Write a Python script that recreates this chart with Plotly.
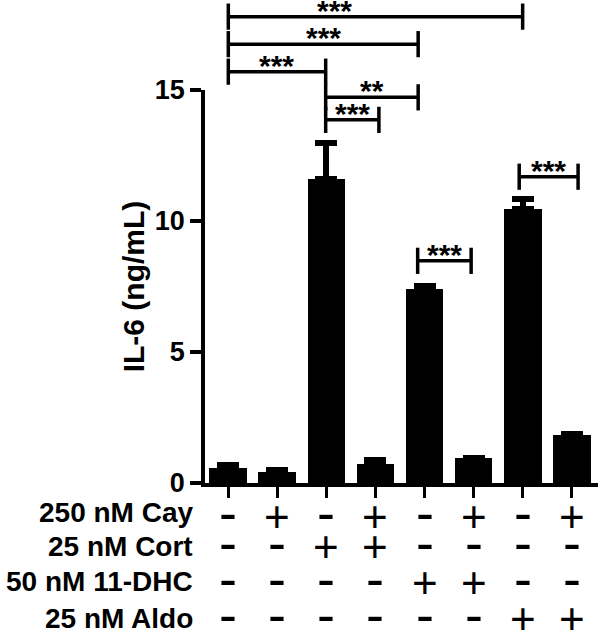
import plotly.graph_objects as go

# ---------------- data ----------------
groups = ["G1", "G2", "G3", "G4", "G5", "G6", "G7", "G8"]
il6_mean = [0.57, 0.42, 11.59, 0.72, 7.40, 0.95, 10.45, 1.82]
il6_sem = [0.13, 0.08, 1.40, 0.17, 0.12, 0.02, 0.39, 0.06]

row_labels = ["250 nM Cay", "25 nM Cort", "50 nM 11-DHC", "25 nM Aldo"]
cay = [0, 1, 0, 1, 0, 1, 0, 1]
cort = [0, 0, 1, 1, 0, 0, 0, 0]
dhc = [0, 0, 0, 0, 1, 1, 0, 0]
aldo = [0, 0, 0, 0, 0, 0, 1, 1]
treatments = [cay, cort, dhc, aldo]

# significance brackets: start (group index), end, height (ng/mL), label, label x
sig_start = [0.0, 0.0, 0.0, 1.985, 1.985, 3.86, 5.93]
sig_end = [6.0, 3.87, 1.985, 3.87, 3.07, 4.95, 7.13]
sig_height = [17.80, 16.75, 15.70, 14.72, 13.86, 8.48, 11.69]
sig_label = ["***", "***", "***", "**", "***", "***", "***"]
sig_label_x = [2.17, None, None, None, None, None, None]

y_ticks = [0, 5, 10, 15]
Y_MAX = 15

# ---------------- style ----------------
FONT = "Liberation Sans, Arial, Helvetica, sans-serif"
xpos = list(range(len(groups)))

fig = go.Figure()
fig.add_trace(go.Bar(
    x=xpos, y=il6_mean, width=0.77,
    marker=dict(color="black", line=dict(width=0)),
    error_y=dict(type="data", array=il6_sem, arrayminus=[0] * len(il6_sem),
                 symmetric=False, color="black", thickness=6, width=11),
    showlegend=False,
))

shapes = []
annotations = []
tick_half = 0.5  # vertical end-mark half length in ng/mL
for s, e, h, lab, lx in zip(sig_start, sig_end, sig_height, sig_label, sig_label_x):
    yl = h / Y_MAX
    y0 = (h - tick_half) / Y_MAX
    y1 = (h + tick_half) / Y_MAX
    line = dict(color="black", width=3.5)
    shapes.append(dict(type="line", xref="x", yref="paper", x0=s, x1=e, y0=yl, y1=yl, line=line))
    shapes.append(dict(type="line", xref="x", yref="paper", x0=s, x1=s, y0=y0, y1=y1, line=line))
    shapes.append(dict(type="line", xref="x", yref="paper", x0=e, x1=e, y0=y0, y1=y1, line=line))
    annotations.append(dict(
        text=lab, xref="x", yref="paper",
        x=(lx if lx is not None else (s + e) / 2), y=yl,
        xanchor="center", yanchor="middle", yshift=7, height=18, showarrow=False,
        font=dict(family=FONT, size=30, color="black", weight="bold"),
    ))

# treatment table below the axis
label_px = [512.5, 546.7, 581.7, 618.3]
sign_px = [517.5, 548.0, 583.3, 620.0]
PLOT_BOTTOM = 483.3
for r, (lab, flags) in enumerate(zip(row_labels, treatments)):
    annotations.append(dict(
        text=lab, xref="paper", yref="paper", x=0, y=0, xshift=-10,
        yshift=-(label_px[r] - PLOT_BOTTOM),
        xanchor="right", yanchor="middle", showarrow=False,
        font=dict(family=FONT, size=28, color="black", weight="bold"),
    ))
    for i, f in enumerate(flags):
        if f:
            annotations.append(dict(
                text="+", xref="x", yref="paper", x=xpos[i], y=0,
                yshift=-(sign_px[r] - PLOT_BOTTOM) + 1.5, height=26,
                xanchor="center", yanchor="middle", showarrow=False,
                font=dict(family=FONT, size=44, color="black"),
            ))
        else:
            annotations.append(dict(
                text="-", xref="x", yref="paper", x=xpos[i], y=0,
                yshift=-(sign_px[r] - PLOT_BOTTOM) + 5.5, height=26,
                xanchor="center", yanchor="middle", showarrow=False,
                font=dict(family=FONT, size=54, color="black"),
            ))

fig.update_layout(
    width=600, height=633,
    margin=dict(l=205, r=2, t=90, b=150, pad=0),
    paper_bgcolor="white", plot_bgcolor="white",
    font=dict(family=FONT, color="black"),
    shapes=shapes, annotations=annotations,
    bargap=0,
)
fig.update_xaxes(
    range=[-0.475, 7.536], tickvals=xpos, showticklabels=False,
    showline=True, linecolor="black", linewidth=4,
    ticks="outside", ticklen=11, tickwidth=3, tickcolor="black",
    showgrid=False, zeroline=False,
)
fig.update_yaxes(
    range=[0, Y_MAX], tickvals=y_ticks, ticktext=[str(v) for v in y_ticks],
    showline=True, linecolor="black", linewidth=3.5,
    ticks="outside", ticklen=11, tickwidth=3.5, tickcolor="black",
    tickfont=dict(family=FONT, size=27, color="black", weight="bold"),
    title=dict(text="IL-6 (ng/mL)", standoff=2,
               font=dict(family=FONT, size=30, color="black", weight="bold")),
    showgrid=False, zeroline=False,
)

fig.write_html("out.html", config={"displayModeBar": False},
               post_script="document.body.style.margin='0';")
